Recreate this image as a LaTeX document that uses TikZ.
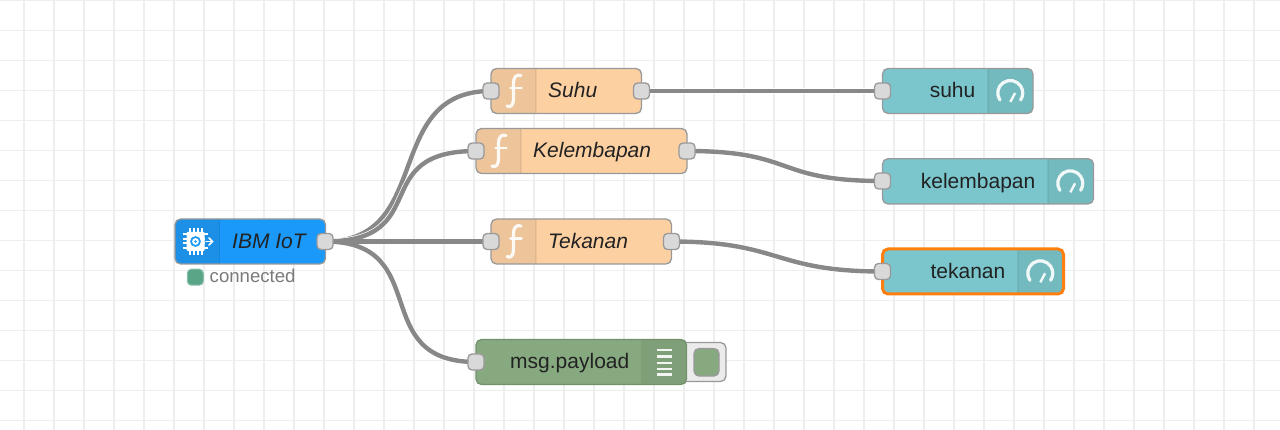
\documentclass[tikz,border=0pt]{standalone}
\usepackage{fontspec}
\setmainfont{Liberation Sans}
\usetikzlibrary{fit,backgrounds}
\definecolor{gridc}{HTML}{EEEEEE}
\definecolor{wirec}{HTML}{888888}
\definecolor{bordc}{HTML}{999999}
\definecolor{portc}{HTML}{D9D9D9}
\definecolor{txtc}{HTML}{222222}
\definecolor{ibmc}{HTML}{1A99FA}
\definecolor{ibmz}{HTML}{1C8FE6}
\definecolor{fnc}{HTML}{FDD0A2}
\definecolor{fnz}{HTML}{EEC49A}
\definecolor{dashc}{HTML}{7AC6CC}
\definecolor{dashz}{HTML}{73BABF}
\definecolor{dbgc}{HTML}{87A980}
\definecolor{dbgz}{HTML}{7F9F78}
\definecolor{selc}{HTML}{FF7F0E}
\definecolor{statc}{HTML}{5AA587}
\tikzset{
  x=1pt,y=-1pt,
  gridline/.style={draw=gridc,line width=1.8pt},
  wire/.style={draw=wirec,line width=4.4pt,preaction={draw=white,line width=5.8pt}},
  nodebody/.style={inner sep=0pt,outer sep=0pt,rounded corners=5.5pt},
  nodeedge/.style={draw=bordc,line width=1.3pt,rounded corners=5.5pt},
  seledge/.style={draw=selc,line width=3pt,rounded corners=5.5pt},
  divline/.style={draw=black,draw opacity=.06,line width=1.2pt},
  port/.style={draw=bordc,fill=portc,line width=1.3pt,rounded corners=4pt,minimum width=16pt,minimum height=16pt,inner sep=0pt},
  lbl/.style={font=\fontsize{21}{24}\selectfont,text=txtc,inner sep=0pt},
  lblit/.style={lbl,font=\fontsize{21}{24}\selectfont\itshape},
  iconline/.style={draw=white,draw opacity=.9,line width=3.2pt,line cap=round},
}
% name, x1, y1, x2, y2, fill, zone x1, zone x2, zone colour
\newcommand{\nrnode}[9]{%
  \node[nodebody,fill=#6,fit={(#2,#3)(#4,#5)}] (#1) {};
  \begin{scope}
    \clip[rounded corners=5.5pt] (#2,#3) rectangle (#4,#5);
    \fill[#9] (#7,#3) rectangle (#8,#5);
  \end{scope}
}
\newcommand{\ficon}[2]{%
  \begin{scope}[shift={(#1,#2)}]
    \draw[iconline] (7.5,-15.5) .. controls (3,-17) and (0,-14) .. (0,-8) -- (0,8) .. controls (0,14) and (-3,17) .. (-6.5,15);
    \draw[iconline,line width=2.8pt] (-3,-3) -- (8,-3);
  \end{scope}}
\newcommand{\gaugeicon}[2]{%
  \begin{scope}[shift={(#1,#2)}]
    \draw[iconline] (-10.4,7) arc[start angle=214,end angle=-34,radius=12.5pt];
    \draw[iconline,line width=2.4pt,line cap=butt] (0,9) -- (4.8,0);
  \end{scope}}
\begin{document}
\begin{tikzpicture}
\useasboundingbox (0,0) rectangle (1280,430);

% IBM IoT
\nrnode{ibm}{175}{219}{325.5}{264}{ibmc}{175}{219.7}{ibmz}
\draw[nodeedge] (ibm.north west) rectangle (ibm.south east);
\draw[divline] (219.7,219.5) -- (219.7,263.5);
\node[lblit,anchor=base west] (ibmtxt) at (232,249) {IBM IoT};
\node[port] (ibmout) at (325,241.5) {};
% chip icon
\foreach \py in {234.5,239,243.5,248}{
  \draw[white,line width=2pt] (182.5,\py) -- (208,\py);}
\foreach \px in {189.5,193.5,197.5,201.5}{
  \draw[white,line width=2pt] (\px,228) -- (\px,255);}
\fill[white,rounded corners=1pt] (186.5,232) rectangle (204.5,251);
\fill[ibmc] (195.5,241.5) circle[radius=5.4pt];
\fill[white] (195.5,241.5) circle[radius=3.4pt];
\fill[ibmc] (195.5,241.5) circle[radius=1.4pt];
\fill[ibmz] (204.5,237) rectangle (209,246);
\draw[white,line width=1.6pt,line cap=round] (206,241.5) -- (212,241.5);
\draw[white,line width=1.6pt,line cap=round] (209,238) -- (212.5,241.5) -- (209,245);
% status
\node[fill=statc,draw=statc!70!white,line width=1pt,rounded corners=4pt,minimum width=16pt,minimum height=16pt,inner sep=0pt] (stat) at (195.3,277.2) {};
\node[inner sep=0pt,anchor=base west,text=black!52,font=\fontsize{18.6}{22}\selectfont] (stattxt) at (209.5,282.5) {connected};

% Suhu
\nrnode{fsuhu}{491}{68.5}{641.5}{113.5}{fnc}{491}{536}{fnz}
\draw[nodeedge] (fsuhu.north west) rectangle (fsuhu.south east);
\draw[divline] (536,69) -- (536,113);
\ficon{513.5}{91}
\node[lblit,anchor=base west] (tsuhu) at (548,98) {Suhu};
\node[port] (fsuhuin) at (491,91) {};
\node[port] (fsuhuout) at (641.5,91) {};

% Kelembapan
\nrnode{fkel}{476}{128.5}{687}{173.5}{fnc}{476}{521}{fnz}
\draw[nodeedge] (fkel.north west) rectangle (fkel.south east);
\draw[divline] (521,129) -- (521,173);
\ficon{498.5}{151}
\node[lblit,anchor=base west] (tkel) at (533,158) {Kelembapan};
\node[port] (fkelin) at (476,151) {};
\node[port] (fkelout) at (687,151) {};

% Tekanan
\nrnode{ftek}{491}{219}{671.5}{264}{fnc}{491}{536}{fnz}
\draw[nodeedge] (ftek.north west) rectangle (ftek.south east);
\draw[divline] (536,219.5) -- (536,263.5);
\ficon{513.5}{241.5}
\node[lblit,anchor=base west] (ttek) at (548,248.5) {Tekanan};
\node[port] (ftekin) at (491,241.5) {};
\node[port] (ftekout) at (671.5,241.5) {};

% debug
\node[fill=white!92!black,draw=bordc,line width=1.3pt,rounded corners=5.5pt,inner sep=0pt,fit={(670,342.5)(726,381.5)}] (tab) {};
\node[fill=dbgc,draw=bordc,line width=1.3pt,rounded corners=5pt,inner sep=0pt,fit={(694,348.5)(719,376)}] (tabbtn) {};
\nrnode{dbg}{476}{339.5}{686.5}{384.5}{dbgc}{641.5}{686.5}{dbgz}
\draw[nodeedge,draw=dbgc!85!black] (dbg.north west) rectangle (dbg.south east);
\draw[divline] (641.5,340) -- (641.5,384);
\foreach \ly in {350,356.5,363,369,374.5} \draw[white,draw opacity=.9,line width=2.2pt] (656.5,\ly) -- (672,\ly);
\node[lbl,anchor=base east] (tdbg) at (629.5,369) {msg.payload};
\node[port] (dbgin) at (476,362) {};

% suhu gauge
\nrnode{gsuhu}{882.5}{68.5}{1033}{113.5}{dashc}{988}{1033}{dashz}
\draw[nodeedge] (gsuhu.north west) rectangle (gsuhu.south east);
\draw[divline] (988,69) -- (988,113);
\gaugeicon{1010.3}{93}
\node[lbl,anchor=base east] (tgsuhu) at (975.5,98) {suhu};
\node[port] (gsuhuin) at (882.5,91) {};

% kelembapan gauge
\nrnode{gkel}{882.5}{158.7}{1093.5}{204}{dashc}{1048}{1093.5}{dashz}
\draw[nodeedge] (gkel.north west) rectangle (gkel.south east);
\draw[divline] (1048,159) -- (1048,203.5);
\gaugeicon{1070.3}{183.3}
\node[lbl,anchor=base east] (tgkel) at (1035.5,188.5) {kelembapan};
\node[port] (gkelin) at (882.5,181) {};

% tekanan gauge
\nrnode{gtek}{882.5}{249}{1063.5}{294}{dashc}{1018}{1063.5}{dashz}
\draw[seledge] (gtek.north west) rectangle (gtek.south east);
\draw[divline] (1018,250) -- (1018,293);
\gaugeicon{1040.3}{273.3}
\node[lbl,anchor=base east] (tgtek) at (1005.5,278.5) {tekanan};
\node[port] (gtekin) at (882.5,271.5) {};

% background grid and wires
\begin{pgfonlayer}{background}
\fill[white] (0,0) rectangle (1280,430);
\foreach \gx in {24,54,...,1284} \draw[gridline] (\gx,0) -- (\gx,430);
\foreach \gy in {0.5,30.5,...,421} \draw[gridline] (0,\gy) -- (1280,\gy);
\draw[wire] (ibmout.center) .. controls +(110,0) and +(-110,0) .. (fsuhuin.center);
\draw[wire] (ibmout.center) .. controls +(110,0) and +(-110,0) .. (fkelin.center);
\draw[wire] (ibmout.center) .. controls +(110,0) and +(-110,0) .. (dbgin.center);
\draw[wire] (ibmout.center) -- (ftekin.center);
\draw[wire] (fsuhuout.center) -- (gsuhuin.center);
\draw[wire] (fkelout.center) .. controls +(110,0) and +(-110,0) .. (gkelin.center);
\draw[wire] (ftekout.center) .. controls +(110,0) and +(-110,0) .. (gtekin.center);
\end{pgfonlayer}
\end{tikzpicture}
\end{document}
